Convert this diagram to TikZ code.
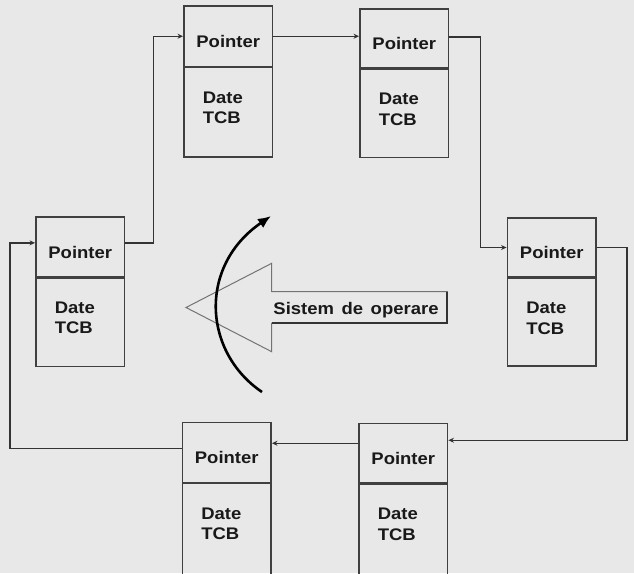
\documentclass[tikz,border=0pt]{standalone}
\usepackage{fontspec}
\setmainfont{Liberation Sans}[FakeStretch=1.1]
\usetikzlibrary{arrows.meta,calc}
\definecolor{bg}{gray}{0.91}
\definecolor{boxc}{gray}{0.25}
\definecolor{linec}{gray}{0.2}
\definecolor{outl}{gray}{0.45}
\tikzset{
  lab/.style={font=\fontsize{16.8}{20.5}\selectfont\bfseries, text=black!90},
  ptrbox/.style={draw=boxc, line width=1.9pt, lab, inner sep=0pt, minimum width=88.5pt, text height=22.8pt, text depth=0pt},
  databox/.style={draw=boxc, line width=1.9pt, inner sep=0pt, minimum width=88.5pt},
  datatext/.style={lab, align=left, inner sep=0pt, anchor=north west},
  link/.style={draw=linec, line width=1.5pt, -{Stealth[length=5.5pt,width=5pt]}},
  curvearrow/.style={draw=black, line width=2.6pt, -{Latex[length=13pt,width=11pt]}},
  bigarrow/.style={draw=outl, line width=1pt},
  shadowedge/.style={draw=linec, line width=1.8pt}
}
\newcommand{\mkbox}[5]{%
  \node[ptrbox, minimum height={#4-#3}] (p#1) at ({#2+44.25},{(#3+#4)/2}) {Pointer};
  \node[databox, minimum height={#5-#4}, anchor=north] (d#1) at ({#2+44.25},#4) {};
  \node[datatext] (t#1) at ([xshift=19.5pt,yshift=-25pt]d#1.north west) {Date\\TCB};
}
\begin{document}
\begin{tikzpicture}[x=1pt,y=-1pt]
  \useasboundingbox (0,0) rectangle (634,573);
  \fill[bg] (0,0) rectangle (634,573);
  \clip (0,0) rectangle (634,573);
  % boxes: id, left, top, divider, bottom
  \mkbox{1}{184}{6}{66.5}{156}
  \mkbox{2}{360}{9}{68}{156.5}
  \mkbox{3}{507.5}{218}{277}{365}
  \mkbox{4}{359}{423.5}{483}{600}
  \mkbox{5}{182.5}{422.5}{482.5}{600}
  \mkbox{6}{36}{217}{276.7}{365.5}
  % connectors
  \draw[link] ([yshift=4pt]p6.east) -- ++(28,0) |- (p1.west);
  \draw[link] (p1.east) -- (p1.east -| p2.west);
  \draw[link] ([yshift=1.5pt]p2.east) -- ++(31,0) |- (p3.west);
  \draw[link] (p3.east) -- ++(30,0) |- ([yshift=13pt]p4.east);
  \coordinate (a5) at ([yshift=10pt]p4.west);
  \draw[link] (a5) -- (a5 -| p5.east);
  \draw[link] ([yshift=4pt]p5.west) -- ++(-171.5,0) |- ([yshift=4pt]p6.west);
  % big hollow arrow
  \draw[bigarrow] (186,307.5) -- (271.7,263.3) -- (271.7,291.7) -- (447.3,291.7)
     -- (447.3,323.3) -- (271.7,323.3) -- (271.7,351.7) -- cycle;
  \draw[shadowedge] (271.7,323.3) -- (447.3,323.3) -- (447.3,291.7);
  \node[lab, anchor=base, inner sep=0pt] (os) at (356,314.3) {Sistem\hspace{0.45em}de\hspace{0.45em}operare};
  % curved arrow
  \coordinate (ca) at (262,392);
  \coordinate (cb) at (271,216);
  \draw[curvearrow] (ca) .. controls (203,352) and (198,266) .. (cb);
\end{tikzpicture}
\end{document}
